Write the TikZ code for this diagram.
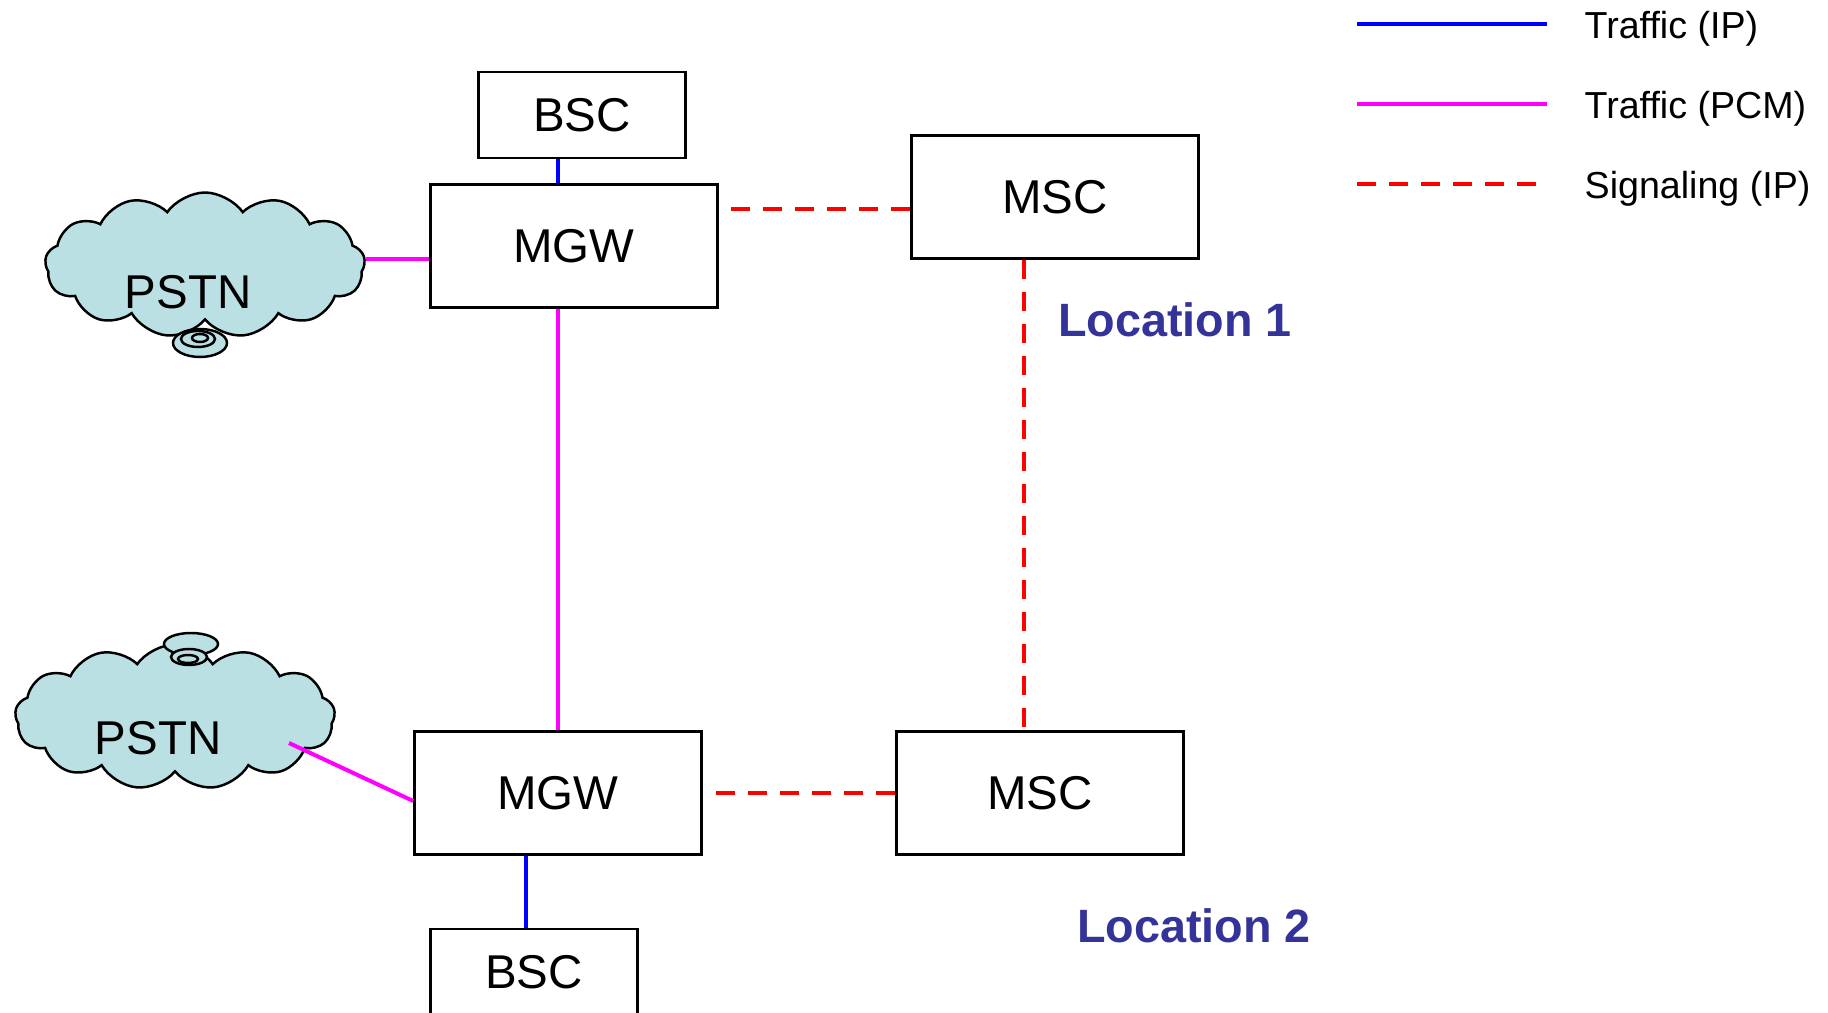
\documentclass[tikz,border=0pt]{standalone}
\usepackage{fontspec}
\setmainfont{Liberation Sans}
\usetikzlibrary{calc,shapes.symbols}
\definecolor{pstnblue}{HTML}{BAE0E3}
\definecolor{locblue}{HTML}{333399}
\definecolor{ipblue}{HTML}{0000FF}
\definecolor{pcmpink}{HTML}{FF00FF}
\definecolor{sigred}{HTML}{FF0000}

\begin{document}
\begin{tikzpicture}[x=0.1mm, y=-0.1mm,
		box/.style={draw, line width=0.75pt, fill=white, inner sep=0pt, font=\fontsize{13.5}{16}\selectfont},
		bigbox/.style={box, minimum width=28.7mm, minimum height=12.3mm},
		smallbox/.style={box, minimum width=20.7mm, minimum height=8.6mm},
		pstn/.style={cloud, cloud puffs=13, cloud puff arc=110, aspect=2.3, draw, line width=0.7pt, fill=pstnblue, minimum width=32mm, minimum height=14.5mm, inner sep=0pt},
		bubble/.style={draw, line width=0.7pt, fill=pstnblue},
		lbl/.style={inner sep=0pt, font=\fontsize{13.5}{16}\selectfont},
		loc/.style={inner sep=0pt, text=locblue, font=\fontsize{13.3}{16}\selectfont\bfseries},
		legtxt/.style={anchor=west, inner sep=0pt, font=\fontsize{10.7}{13}\selectfont},
		ip/.style={line width=0.4mm, color=ipblue},
		pcm/.style={line width=0.4mm, color=pcmpink},
		sig/.style={line width=0.45mm, color=sigred, dash pattern=on 1.9mm off 1.3mm}]
			%%%%% START %%%%%
			
			\useasboundingbox (0, 0) rectangle (1828, 1013);
			
			\node[pstn] (PSTN1) at (205, 265) {};
			\draw[bubble] (200, 343) ellipse [x radius=2.7mm, y radius=1.4mm];
			\draw[bubble] (198, 339) ellipse [x radius=1.7mm, y radius=0.8mm];
			\draw[bubble] (200, 338) ellipse [x radius=0.8mm, y radius=0.4mm];
			\node[lbl] (PSTN1txt) at (188, 292) {PSTN};
			
			\node[pstn] (PSTN2) at (175, 717) {};
			\draw[bubble] (191, 644) ellipse [x radius=2.7mm, y radius=1.1mm];
			\draw[bubble] (189, 657) ellipse [x radius=1.8mm, y radius=0.8mm];
			\draw[bubble] (188, 659) ellipse [x radius=1.0mm, y radius=0.4mm];
			\node[lbl] (PSTN2txt) at (158, 738) {PSTN};
			
			\node[smallbox] (BSC1) at (582, 115) {BSC};
			\node[bigbox] (MGW1) at (574, 246) {MGW};
			\node[bigbox] (MSC1) at (1055, 197) {MSC};
			
			\node[bigbox] (MGW2) at (558, 793) {MGW};
			\node[bigbox] (MSC2) at (1040, 793) {MSC};
			\node[smallbox] (BSC2) at (534, 972) {BSC};
			
			\node[loc] (loc1) at (1175, 320) {Location 1};
			\node[loc] (loc2) at (1194, 926) {Location 2};
			
			% traffic
			\draw[ip] (BSC1.south -| MGW2.north) -- (MGW1.north -| MGW2.north);
			\draw[pcm] (MGW1.south -| MGW2.north) -- (MGW2.north);
			\coordinate (ipB) at ([xshift=-0.8mm]BSC2.north);
			\draw[ip] (MGW2.south -| ipB) -- (ipB);
			\coordinate (pcmA) at ([yshift=0.6mm]PSTN1.east);
			\draw[pcm] (pcmA) -- (pcmA -| MGW1.west);
			\coordinate (pcmB) at ($(PSTN2.center)+(114, 26)$);
			\draw[pcm] (pcmB) -- ([yshift=-0.8mm]MGW2.west);
			
			% signaling
			\coordinate (sigA) at ([xshift=0.9mm]MGW1.east);
			\coordinate (sigB) at ([yshift=-1.2mm]MSC1.west);
			\draw[sig] (sigB) -- (sigB -| sigA);
			\coordinate (sigC) at ([xshift=-3.1mm]MSC1.south);
			\draw[sig] (sigC) -- (sigC |- MSC2.north);
			\draw[sig] (MSC2.west) -- ([xshift=1mm]MGW2.east);
			
			% legend
			\node[legtxt] (legIP) at (1584, 29) {Traffic (IP)};
			\node[legtxt] (legPCM) at (1584, 109) {Traffic (PCM)};
			\node[legtxt] (legSIG) at (1584, 189) {Signaling (IP)};
			\draw[ip] ([xshift=-22.7mm, yshift=0.5mm]legIP.west) -- ([xshift=-3.7mm, yshift=0.5mm]legIP.west);
			\draw[pcm] ([xshift=-22.7mm, yshift=0.5mm]legPCM.west) -- ([xshift=-3.7mm, yshift=0.5mm]legPCM.west);
			\draw[sig] ([xshift=-22.7mm, yshift=0.5mm]legSIG.west) -- ([xshift=-4.7mm, yshift=0.5mm]legSIG.west);
			
			%%%%% END %%%%%
\end{tikzpicture}
\end{document}
